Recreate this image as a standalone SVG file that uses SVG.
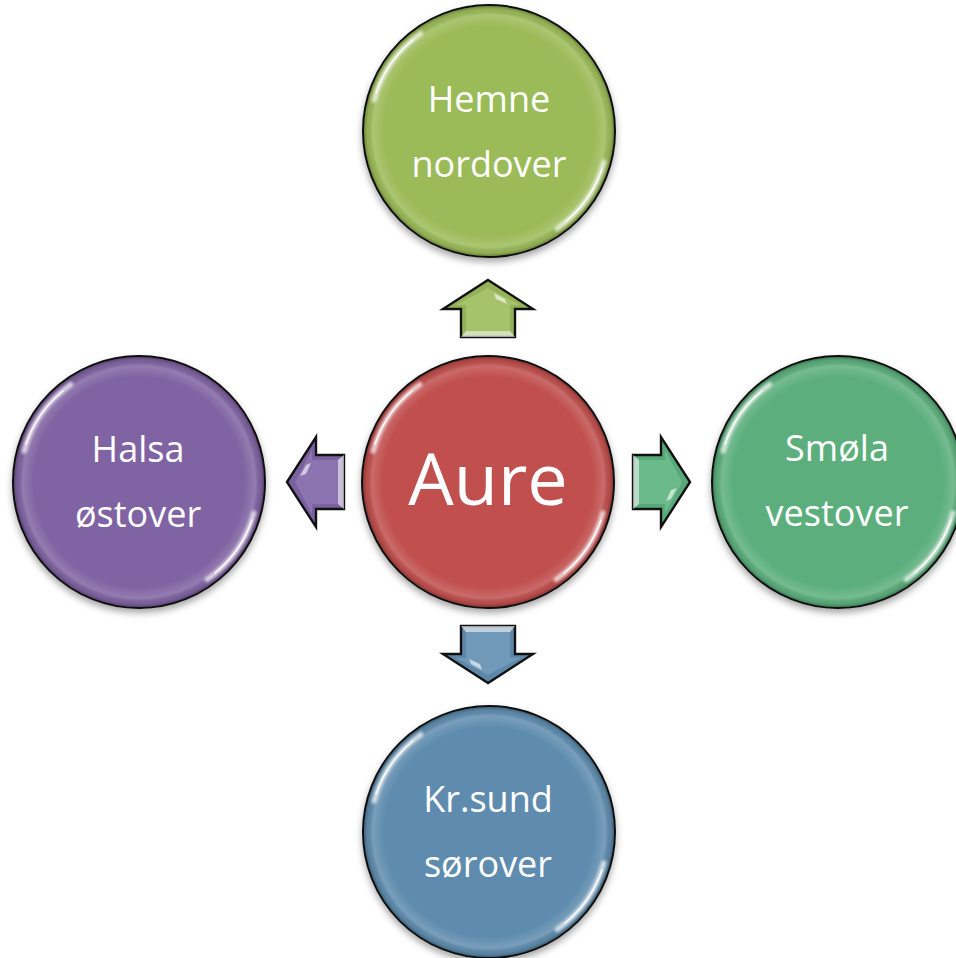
<svg xmlns="http://www.w3.org/2000/svg" xmlns:xlink="http://www.w3.org/1999/xlink" width="956" height="958" viewBox="0 0 956 958">
<style>
.circle{stroke:#111;stroke-width:2}
.rim{fill:url(#rim)}
.lbl{font-family:"Open Sans","Liberation Sans",sans-serif;font-size:36px;fill:#fff;text-anchor:middle}
.big{font-size:72px}
.arrow-out{stroke:#111;stroke-width:2.4;stroke-linejoin:miter}
.hlw{fill:#fff;opacity:0.6}
</style>
<defs>
  <radialGradient id="rim" cx="50%" cy="50%" r="50%">
    <stop offset="0.84" stop-color="#fff" stop-opacity="0"/>
    <stop offset="0.93" stop-color="#fff" stop-opacity="0.16"/>
    <stop offset="0.975" stop-color="#000" stop-opacity="0.06"/>
    <stop offset="1" stop-color="#000" stop-opacity="0.28"/>
  </radialGradient>
  <filter id="blur" x="-20%" y="-20%" width="140%" height="140%"><feGaussianBlur stdDeviation="1.6"/></filter>
  <filter id="shadow" x="-20%" y="-20%" width="140%" height="150%"><feDropShadow dx="0" dy="4" stdDeviation="3.5" flood-color="#000" flood-opacity="0.35"/></filter>
  <g id="hl">
    <g filter="url(#blur)" fill="none" stroke="#fff" stroke-linecap="round" stroke-width="5" opacity="0.75">
      <path d="M -114.9 -30.8 A 119 119 0 0 1 -68.3 -97.5"/>
      <path d="M 114.9 30.8 A 119 119 0 0 1 68.3 97.5"/>
    </g>
    <g fill="none" stroke="#fff" stroke-linecap="round" stroke-width="1.6" opacity="0.9">
      <path d="M -113 -38 A 119 119 0 0 1 -76 -91"/>
      <path d="M 113 38 A 119 119 0 0 1 76 91"/>
    </g>
  </g>
  <path id="arrOut" d="M0 -29 L45 0 L27 0 L27 28 L-27 28 L-27 0 L-45 0 Z"/>
  <path id="arrIn" d="M0 -21 L32 -4 L22 -4 L22 22 L-22 22 L-22 -4 L-32 -4 Z"/>
  <g id="arrHl">
    <path class="hlw" d="M-27 28 L27 28 L22 22 L-22 22 Z"/>
    <path class="hlw" d="M6 -16 L17 -10 L19 -5 L8 -10 Z" opacity="0.85"/>
  </g>
</defs>

<g id="connectors">
  <g id="arrow-north" transform="translate(488,309)">
    <use xlink:href="#arrOut" class="arrow-out" fill="#93B25A"/>
    <use xlink:href="#arrIn" fill="#A4C36A"/>
    <use xlink:href="#arrHl"/>
  </g>
  <g id="arrow-west" transform="translate(316,482) rotate(-90)">
    <use xlink:href="#arrOut" class="arrow-out" fill="#7A62A0"/>
    <use xlink:href="#arrIn" fill="#8C74B0"/>
    <use xlink:href="#arrHl"/>
  </g>
  <g id="arrow-east" transform="translate(661,482) rotate(90)">
    <use xlink:href="#arrOut" class="arrow-out" fill="#58A87A"/>
    <use xlink:href="#arrIn" fill="#6ABA8C"/>
    <use xlink:href="#arrHl"/>
  </g>
  <g id="arrow-south" transform="translate(488,654) rotate(180)">
    <use xlink:href="#arrOut" class="arrow-out" fill="#5F87A8"/>
    <use xlink:href="#arrIn" fill="#7099BA"/>
    <use xlink:href="#arrHl"/>
  </g>
</g>

<g id="node-aure">
  <circle class="circle" cx="488" cy="482" r="126" fill="#C0504D" filter="url(#shadow)"/>
  <circle class="rim" cx="488" cy="482" r="125"/>
  <use xlink:href="#hl" transform="translate(488,482)"/>
  <text class="lbl big" x="488" y="505">Aure</text>
</g>

<g id="node-hemne">
  <circle class="circle" cx="489" cy="131" r="126" fill="#9BBB59" filter="url(#shadow)"/>
  <circle class="rim" cx="489" cy="131" r="125"/>
  <use xlink:href="#hl" transform="translate(489,131)"/>
  <text class="lbl" x="489" y="112">Hemne</text>
  <text class="lbl" x="489" y="177">nordover</text>
</g>

<g id="node-halsa">
  <circle class="circle" cx="139" cy="482" r="126" fill="#8064A2" filter="url(#shadow)"/>
  <circle class="rim" cx="139" cy="482" r="125"/>
  <use xlink:href="#hl" transform="translate(139,482)"/>
  <text class="lbl" x="138" y="462">Halsa</text>
  <text class="lbl" x="138" y="527">østover</text>
</g>

<g id="node-smola">
  <circle class="circle" cx="838" cy="482" r="126" fill="#5BAF7D" filter="url(#shadow)"/>
  <circle class="rim" cx="838" cy="482" r="125"/>
  <use xlink:href="#hl" transform="translate(838,482)"/>
  <text class="lbl" x="837" y="461">Smøla</text>
  <text class="lbl" x="837" y="526">vestover</text>
</g>

<g id="node-krsund">
  <circle class="circle" cx="489" cy="832" r="126" fill="#5F8CAE" filter="url(#shadow)"/>
  <circle class="rim" cx="489" cy="832" r="125"/>
  <use xlink:href="#hl" transform="translate(489,832)"/>
  <text class="lbl" x="488" y="812">Kr.sund</text>
  <text class="lbl" x="488" y="877">sørover</text>
</g>
</svg>
